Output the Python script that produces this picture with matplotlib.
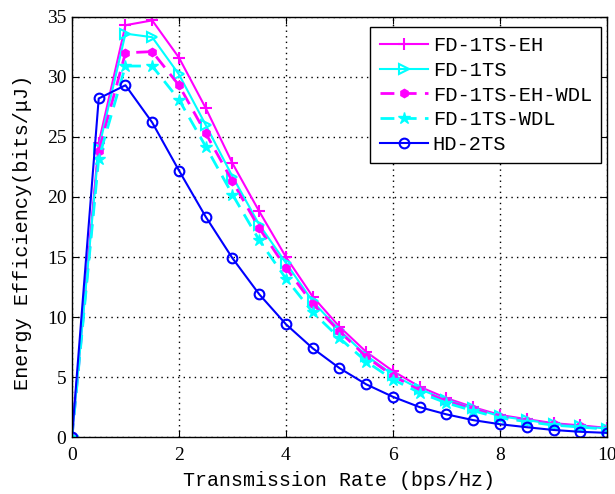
import numpy as np
import matplotlib
matplotlib.use('Agg')
import matplotlib.pyplot as plt

plt.rcParams['font.family'] = ['Liberation Mono', 'DejaVu Sans Mono']

# Data
rate = np.arange(0, 10.5, 0.5)
fd_eh = [0, 24.5, 34.3, 34.7, 31.6, 27.4, 22.8, 18.8, 15.0, 11.7, 9.2, 7.1,
         5.5, 4.2, 3.25, 2.5, 1.85, 1.5, 1.17, 0.98, 0.78]
fd = [0, 24.0, 33.6, 33.3, 30.2, 26.0, 21.7, 17.7, 14.5, 11.3, 8.9, 6.8,
      5.2, 4.0, 3.1, 2.4, 1.75, 1.42, 1.1, 0.92, 0.72]
fd_eh_wdl = [0, 23.8, 32.0, 32.1, 29.3, 25.3, 21.3, 17.4, 14.1, 11.1, 8.8, 6.7,
             5.1, 3.9, 3.0, 2.35, 1.7, 1.38, 1.07, 0.9, 0.7]
fd_wdl = [0, 23.2, 30.9, 30.9, 28.1, 24.2, 20.2, 16.4, 13.2, 10.4, 8.25, 6.3,
          4.8, 3.7, 2.85, 2.2, 1.6, 1.3, 1.0, 0.85, 0.66]
hd = [0, 28.2, 29.3, 26.2, 22.2, 18.35, 14.9, 11.9, 9.4, 7.4, 5.75, 4.4,
      3.36, 2.5, 1.9, 1.42, 1.08, 0.83, 0.6, 0.45, 0.36]

fig = plt.figure(figsize=(6.15, 4.94), dpi=100)
ax = fig.add_axes([0.117, 0.115, 0.870, 0.851])

ax.plot(rate, fd_eh, '-', color='#ff00ff', marker='+', ms=9, mew=1.5, lw=1.5, label='FD-1TS-EH')
ax.plot(rate, fd, '-', color='#00ffff', marker='>', ms=7, mfc='none', mew=1.5, lw=1.5, label='FD-1TS')
ax.plot(rate, fd_eh_wdl, '--', color='#ff00ff', marker='h', ms=6, mfc='#ff00ff', lw=2, dashes=(5, 3), label='FD-1TS-EH-WDL')
ax.plot(rate, fd_wdl, '--', color='#00ffff', marker='*', ms=9, lw=2, dashes=(5, 3), label='FD-1TS-WDL')
ax.plot(rate, hd, '-', color='#0000ff', marker='o', ms=7, mfc='none', mew=1.5, lw=1.5, label='HD-2TS')

ax.set_xlim(0, 10)
ax.set_ylim(0, 35)
ax.set_xticks(np.arange(0, 11, 2))
ax.set_yticks(np.arange(0, 36, 5))
ax.grid(True, color='black', linestyle=(0, (1, 3)), linewidth=1)
ax.tick_params(direction='in', top=True, right=True, labelsize=14, length=5)
ax.tick_params(axis='x', pad=7)
ax.tick_params(axis='y', pad=4)
for lab in ax.get_xticklabels() + ax.get_yticklabels():
    lab.set_family(['Liberation Serif', 'DejaVu Serif'])
for s in ax.spines.values():
    s.set_linewidth(1)

ax.set_xlabel('Transmission Rate (bps/Hz)', fontsize=14.4, labelpad=5)
ax.set_ylabel('Energy Efficiency(bits/\u03bcJ)', fontsize=14.5)
ax.yaxis.set_label_coords(-0.075, 0.488)

leg = ax.legend(loc='upper right', bbox_to_anchor=(0.989, 0.976), borderaxespad=0,
                fontsize=14.7, fancybox=False, edgecolor='black', framealpha=1,
                handlelength=2.35, handletextpad=0.25, borderpad=0.45, labelspacing=0.28)
leg.get_frame().set_linewidth(1)

fig.savefig('out.png', dpi=100)
